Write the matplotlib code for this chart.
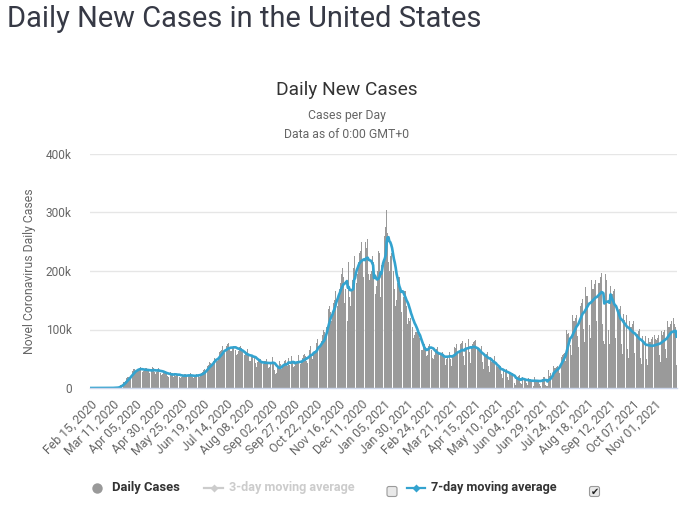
import matplotlib
matplotlib.use("Agg")
import matplotlib.pyplot as plt
from matplotlib.patches import FancyBboxPatch
import pandas as pd

start_date = "2020-02-15"

# daily new cases in thousands, one row per week (Sat .. Fri)
weekly_rows = [
    [0, 0, 0, 0, 0, 0, 0.01],
    [0, 0, 0.01, 0, 0.02, 0, 0.01],
    [0.01, 0.02, 0.03, 0.02, 0.03, 0.05, 0.08],
    [0.1, 0.1, 0.15, 0.2, 0.3, 0.4, 0.5],
    [0.7, 0.8, 1.1, 1.4, 3.1, 4.9, 5.9],
    [7.5, 8.5, 10.5, 10.6, 12.6, 17.8, 18.8],
    [19.5, 19.0, 21.3, 26.4, 25.2, 29.9, 32.1],
    [33.3, 28.2, 29.6, 31.9, 33.3, 34.2, 35.1],
    [32.5, 29.0, 27.5, 29.0, 31.5, 33.5, 35.0],
    [31.0, 28.5, 26.0, 27.5, 29.0, 33.0, 36.5],
    [33.5, 27.0, 24.5, 26.5, 29.5, 35.0, 34.0],
    [29.0, 25.5, 22.5, 24.0, 26.5, 29.0, 29.5],
    [25.5, 20.5, 19.5, 21.5, 23.0, 27.0, 26.0],
    [25.0, 19.0, 22.5, 21.0, 22.5, 24.5, 25.0],
    [23.5, 19.5, 17.5, 19.0, 20.5, 22.5, 24.0],
    [24.0, 20.0, 18.5, 20.5, 21.5, 22.0, 25.0],
    [23.0, 18.5, 17.0, 19.0, 21.5, 23.5, 25.5],
    [25.0, 20.0, 18.5, 23.0, 25.5, 27.5, 31.0],
    [33.0, 29.0, 31.0, 34.5, 37.0, 39.0, 45.0],
    [43.0, 40.0, 42.0, 47.0, 51.0, 55.0, 57.0],
    [48, 46, 52, 62, 64, 65, 72],
    [64, 59, 62, 67, 71, 75, 77],
    [66, 64, 63, 68, 72, 76, 78],
    [65, 57, 58, 64, 70, 72, 69],
    [61, 51, 49, 57, 58, 62, 66],
    [55, 46, 47, 54, 56, 53, 64],
    [52, 42, 36, 45, 47, 48, 50],
    [46, 35, 37, 41, 46, 47, 50],
    [44, 35, 36, 41, 44, 50, 53],
    [42, 31, 24, 26, 35, 37, 47],
    [41, 35, 33, 38, 41, 46, 48],
    [42, 37, 52, 39, 39, 45, 55],
    [45, 36, 38, 44, 42, 47, 56],
    [49, 35, 41, 45, 51, 57, 58],
    [55, 47, 42, 53, 61, 65, 71],
    [57, 50, 60, 62, 62, 77, 84],
    [83, 61, 68, 75, 80, 91, 100],
    [95, 90, 105, 110, 125, 135, 140],
    [130, 115, 125, 145, 150, 165, 185],
    [165, 140, 160, 170, 180, 195, 205],
    [190, 145, 170, 180, 195, 115, 215],
    [155, 140, 170, 185, 205, 225, 235],
    [215, 180, 195, 215, 230, 235, 250],
    [220, 190, 200, 205, 250, 240, 255],
    [195, 185, 195, 200, 225, 215, 100],
    [225, 160, 175, 200, 235, 230, 155],
    [210, 210, 250, 235, 260, 275, 305],
    [265, 215, 200, 225, 230, 235, 240],
    [200, 170, 140, 150, 180, 190, 190],
    [170, 130, 145, 150, 155, 165, 165],
    [140, 110, 120, 115, 120, 125, 135],
    [105, 85, 90, 95, 95, 100, 100],
    [85, 65, 55, 65, 65, 70, 75],
    [70, 55, 57, 72, 75, 77, 79],
    [65, 52, 50, 57, 64, 67, 70],
    [60, 44, 48, 56, 57, 62, 58],
    [52, 40, 50, 54, 60, 63, 62],
    [50, 37, 55, 57, 70, 68, 75],
    [60, 43, 60, 62, 75, 77, 80],
    [55, 40, 77, 67, 77, 78, 84],
    [62, 42, 72, 75, 78, 80, 82],
    [55, 38, 66, 66, 65, 65, 72],
    [45, 32, 55, 54, 60, 58, 61],
    [38, 27, 53, 45, 46, 48, 55],
    [30, 20, 37, 36, 37, 36, 37],
    [24, 17, 33, 28, 32, 31, 33],
    [18, 13, 27, 22, 24, 25, 26],
    [13, 8, 5, 18, 18, 20, 22],
    [9, 6, 19, 15, 16, 17, 16],
    [8, 5, 17, 13, 15, 14, 16],
    [7, 4, 18, 13, 14, 14, 14],
    [6, 4, 20, 14, 16, 18, 18],
    [5, 3, 4, 30, 20, 25, 30],
    [22, 17, 37, 34, 34, 36, 37],
    [34, 26, 57, 53, 53, 56, 58],
    [59, 46, 100, 92, 94, 97, 100],
    [73, 57, 125, 115, 115, 120, 125],
    [89, 70, 152, 140, 140, 146, 152],
    [101, 79, 173, 158, 158, 166, 173],
    [108, 85, 185, 169, 170, 177, 185],
    [115, 90, 197, 180, 180, 189, 197],
    [110, 80, 75, 195, 185, 190, 200],
    [100, 75, 175, 160, 160, 165, 170],
    [85, 65, 145, 130, 130, 135, 140],
    [75, 58, 126, 116, 115, 120, 125],
    [66, 52, 115, 104, 105, 109, 114],
    [59, 46, 100, 92, 93, 97, 101],
    [52, 41, 89, 81, 81, 85, 89],
    [50, 40, 86, 79, 79, 83, 87],
    [53, 41, 90, 83, 82, 86, 90],
    [57, 45, 98, 90, 90, 95, 99],
    [66, 52, 114, 105, 105, 109, 114],
    [70, 55, 120, 110, 105, 40],
]

y_ticks = [0, 100000, 200000, 300000, 400000]
y_tick_labels = ["0", "100k", "200k", "300k", "400k"]

daily = pd.Series([v * 1000 for row in weekly_rows for v in row])
dates = pd.date_range(start_date, periods=len(daily), freq="D")
avg7 = daily.rolling(7, min_periods=1).mean()
x = list(range(len(daily)))

plt.rcParams["font.family"] = ["Roboto", "DejaVu Sans"]

W, H = 681, 508
fig = plt.figure(figsize=(W / 100, H / 100), dpi=100)

# plot area in pixels: left 90, right 677, top 154, bottom 388
ax = fig.add_axes([90 / W, 1 - 388 / H, 587 / W, 234 / H])
ax.bar(x, daily, width=0.9, color="#9a9a9a", linewidth=0, zorder=2)
ax.plot(x, avg7, color="#33a3cf", lw=1.9, zorder=3, solid_joinstyle="round")

ax.set_xlim(-0.5, len(daily) - 0.5)
ax.set_ylim(0, 400000)
ax.set_yticks(y_ticks)
ax.set_yticklabels(y_tick_labels)
tick_idx = x[::25]
ax.set_xticks(tick_idx)
ax.set_xticklabels([dates[i].strftime("%b %d, %Y") for i in tick_idx],
                   rotation=45, ha="right", va="top", rotation_mode="anchor")
ax.tick_params(axis="x", length=0, pad=7, labelsize=8.8, labelcolor="#666666")
ax.tick_params(axis="y", length=0, pad=13, labelsize=8.6, labelcolor="#666666")
ax.grid(axis="y", color="#e6e6e6", lw=1, zorder=0)
ax.set_axisbelow(True)
for s in ["top", "right", "left"]:
    ax.spines[s].set_visible(False)
ax.spines["bottom"].set_color("#ccd6eb")
ax.spines["bottom"].set_linewidth(1)
ax.spines["bottom"].set_zorder(4)
ax.set_ylabel("Novel Coronavirus Daily Cases", fontsize=8.8, color="#666666")
ax.yaxis.set_label_coords(-(90 - 36) / 587, 0.5)

# overlay in pixel coordinates for titles and legend
ov = fig.add_axes([0, 0, 1, 1], zorder=5)
ov.set_xlim(0, W)
ov.set_ylim(H, 0)
ov.axis("off")

ov.text(7, 19, "Daily New Cases in the United States", fontsize=20.9,
        color="#363945", va="center", ha="left")
ov.text(347, 90, "Daily New Cases", fontsize=13.8, color="#333333", ha="center", va="center")
ov.text(347, 116, "Cases per Day", fontsize=8.8, color="#666666", ha="center", va="center")
ov.text(347, 134, "Data as of 0:00 GMT+0", fontsize=8.8, color="#666666", ha="center", va="center")

leg_y = 488
ov.plot([97], [leg_y], marker="o", ms=7.5, color="#999999", mec="none")
ov.text(112, leg_y, "Daily Cases", fontsize=9.4, fontweight="bold", color="#333333", va="center")
ov.plot([204, 223], [leg_y, leg_y], color="#cccccc", lw=1.6)
ov.plot([213.5], [leg_y], marker="D", ms=4.5, color="#cccccc", mec="none")
ov.text(229, leg_y, "3-day moving average", fontsize=9.1, fontweight="bold", color="#cccccc", va="center")
ov.plot([407, 425], [leg_y, leg_y], color="#33a3cf", lw=1.6)
ov.plot([416], [leg_y], marker="D", ms=4.5, color="#33a3cf", mec="none")
ov.text(431, leg_y, "7-day moving average", fontsize=9.1, fontweight="bold", color="#333333", va="center")

for cx, checked in [(392, False), (594.5, True)]:
    box = FancyBboxPatch((cx - 5, 486.5), 10, 10, boxstyle="round,pad=0,rounding_size=2",
                         fc="#e9e9e9", ec="#9a9a9a", lw=0.8)
    ov.add_patch(box)
    if checked:
        ov.text(cx, 491.5, "\u2714", fontsize=7, color="#222222", ha="center", va="center",
                family="DejaVu Sans")

fig.savefig("out.png", dpi=100, facecolor="white")
